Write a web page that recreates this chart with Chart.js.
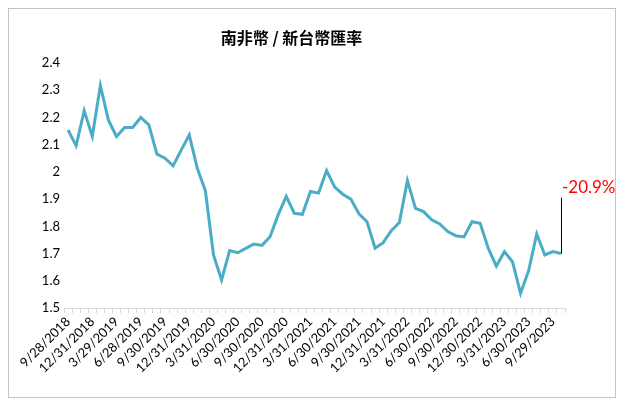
<!DOCTYPE html>
<html>
<head>
<meta charset="utf-8">
<script src="https://cdn.jsdelivr.net/npm/chart.js@4/dist/chart.umd.min.js"></script>
<style>
  html, body { margin: 0; padding: 0; background: #fff; }
  #rateChart { display: block; }
</style>
</head>
<body>
<canvas id="rateChart" width="628" height="408"></canvas>
<script>
var chartTitle = "南非幣 / 新台幣匯率";
// month-end ZAR/TWD, Sep 2018 .. Oct 2023
var rates = [
    2.154, 2.096, 2.225, 2.13, 2.317, 2.19, 2.13, 2.163, 2.163, 2.20,
    2.173, 2.065, 2.05, 2.022, 2.08, 2.136, 2.013, 1.93, 1.695, 1.603,
    1.711, 1.703, 1.719, 1.735, 1.73, 1.762, 1.842, 1.91, 1.848, 1.844,
    1.928, 1.922, 2.005, 1.944, 1.918, 1.90, 1.846, 1.817, 1.72, 1.74,
    1.784, 1.814, 1.968, 1.866, 1.854, 1.824, 1.809, 1.781, 1.765, 1.761,
    1.817, 1.811, 1.72, 1.654, 1.707, 1.67, 1.554, 1.637, 1.772, 1.695,
    1.707, 1.70
];
// one label every 3 months
var tickLabels = ["9/28/2018", "12/31/2018", "3/29/2019", "6/28/2019", "9/30/2019",
    "12/31/2019", "3/31/2020", "6/30/2020", "9/30/2020", "12/31/2020", "3/31/2021",
    "6/30/2021", "9/30/2021", "12/31/2021", "3/31/2022", "6/30/2022", "9/30/2022",
    "12/30/2022", "3/31/2023", "6/30/2023", "9/29/2023"];
var yMin = 1.5, yMax = 2.4, yStep = 0.1;
var changeText = "-20.9%";
var changeTop = 1.905;

var categories = [];
for (var i = 0; i < rates.length; i++) {
    categories[i] = (i % 3 === 0 && tickLabels[i / 3]) ? tickLabels[i / 3] : "";
}

var frame = {
    id: 'frame',
    beforeDraw: function (chart) {
        var ctx = chart.ctx;
        ctx.save();
        ctx.fillStyle = '#fff';
        ctx.fillRect(0, 0, chart.width, chart.height);
        ctx.strokeStyle = '#c4c4c4';
        ctx.lineWidth = 1;
        ctx.strokeRect(8.5, 8.5, 607, 389);
        ctx.restore();
    }
};

var changeMark = {
    id: 'changeMark',
    afterDatasetsDraw: function (chart) {
        var ctx = chart.ctx;
        var x = chart.scales.x.getPixelForValue(rates.length - 1);
        var y1 = chart.scales.y.getPixelForValue(rates[rates.length - 1]);
        var y2 = chart.scales.y.getPixelForValue(changeTop);
        ctx.save();
        ctx.strokeStyle = '#000';
        ctx.lineWidth = 1;
        ctx.beginPath();
        ctx.moveTo(Math.round(x) + 0.5, y1);
        ctx.lineTo(Math.round(x) + 0.5, y2);
        ctx.stroke();
        ctx.fillStyle = '#ff0000';
        ctx.font = '17px Lato';
        ctx.textAlign = 'left';
        ctx.textBaseline = 'bottom';
        ctx.fillText(changeText, x + 1, y2 - 2);
        ctx.restore();
    }
};

var rateChartElem = document.getElementById("rateChart");
var rateChart = new Chart(rateChartElem, {
    type: 'line',
    data: {
        labels: categories,
        datasets: [
            {
                label: chartTitle,
                data: rates,
                borderColor: "rgba(75,172,198,1)",
                backgroundColor: "rgba(75,172,198,1)",
                borderWidth: 3,
                pointRadius: 0,
                lineTension: 0,
                fill: false
            }
        ]
    },
    options: {
        responsive: false,
        animation: false,
        layout: { padding: { top: 0, right: 63, bottom: 10, left: 18 } },
        plugins: {
            legend: { display: false },
            tooltip: { enabled: false },
            title: {
                display: true,
                text: chartTitle,
                color: '#000',
                font: { family: "'Noto Sans CJK TC'", size: 16, weight: 'bold' },
                padding: { top: 28, bottom: 15.8 }
            }
        },
        scales: {
            x: {
                offset: true,
                grid: {
                    offset: true,
                    drawOnChartArea: false,
                    drawTicks: true,
                    tickLength: 5,
                    color: '#d9d9d9'
                },
                border: { display: true, color: '#d9d9d9' },
                ticks: {
                    autoSkip: false,
                    minRotation: 45,
                    maxRotation: 45,
                    padding: 1,
                    color: '#000',
                    font: { family: 'Lato', size: 13 }
                },
                afterFit: function (scale) { scale.height = 90; }
            },
            y: {
                min: yMin,
                max: yMax,
                grid: { display: false, drawTicks: false },
                border: { display: false },
                ticks: {
                    stepSize: yStep,
                    padding: 4,
                    color: '#000',
                    font: { family: 'Lato', size: 13 },
                    callback: function (value) {
                        return String(Number(value.toFixed(1)));
                    }
                },
                afterFit: function (scale) { scale.width = 46; }
            }
        }
    },
    plugins: [frame, changeMark]
});
</script>
</body>
</html>
